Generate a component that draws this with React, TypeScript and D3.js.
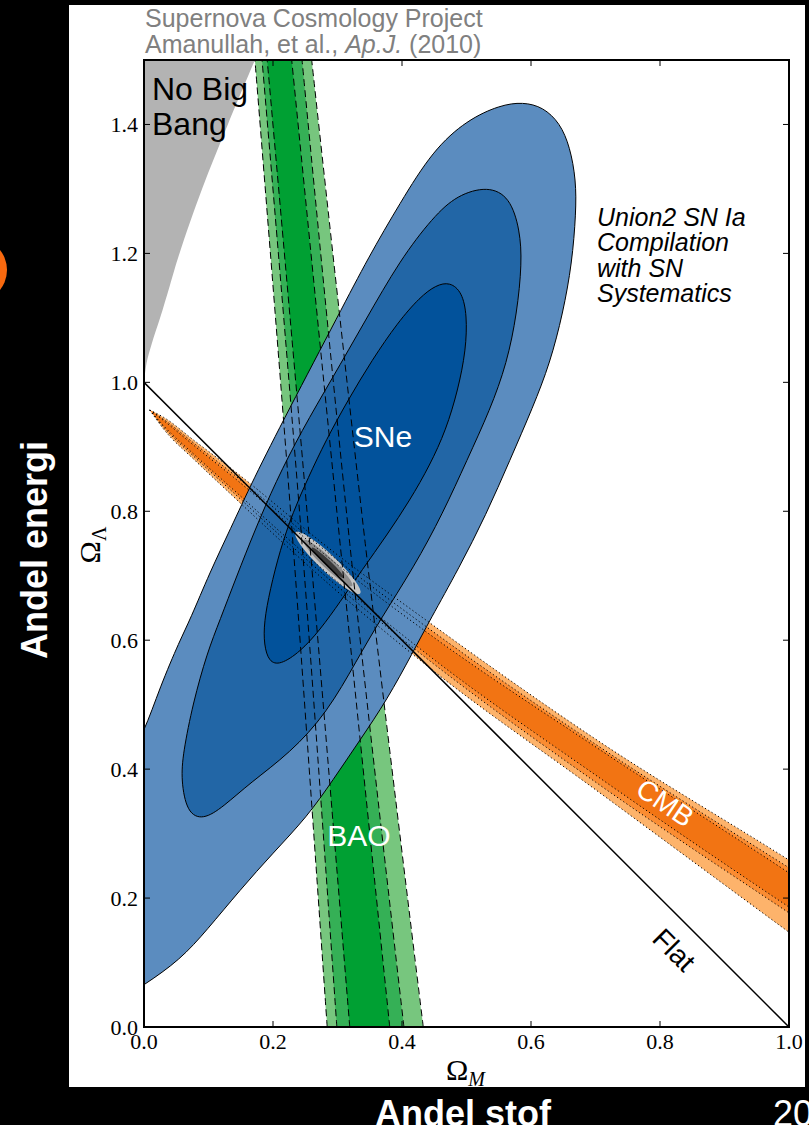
import React from 'react';
import * as d3 from 'd3';

// ---------- data (Omega_M, Omega_Lambda) ----------
const xTicks = [0, 0.2, 0.4, 0.6, 0.8, 1.0];
const yTicks = [0, 0.2, 0.4, 0.6, 0.8, 1.0, 1.2, 1.4];

// "No Big Bang" boundary
const nbbOm = [0, 0.004, 0.012, 0.025, 0.04, 0.055, 0.09, 0.13, 0.172];
const nbbOl = [1.0, 1.03, 1.06, 1.1, 1.15, 1.2, 1.3, 1.4, 1.5];

// SNe contours
const sneOuterOm = [0.5876, 0.6186, 0.645, 0.6605, 0.6698, 0.6698, 0.6636, 0.6496, 0.6295, 0.6031, 0.5674, 0.5302, 0.4884, 0.4434, 0.4171, 0.3767, 0.3349, 0.293, 0.2527, 0.2, 0.1488, 0.0977, 0.0558, 0.0, -0.0372, -0.0682, -0.0837, -0.076, -0.0527, -0.0295, 0.0, 0.0248, 0.0558, 0.0713, 0.1023, 0.1333, 0.169, 0.2217, 0.3039, 0.3473, 0.3969, 0.4481, 0.5008, 0.5519];
const sneOuterOl = [1.4348, 1.427, 1.4022, 1.365, 1.3138, 1.2626, 1.1851, 1.1075, 1.0299, 0.9617, 0.8795, 0.7942, 0.712, 0.6313, 0.5817, 0.5072, 0.4452, 0.3831, 0.3257, 0.2699, 0.2125, 0.1505, 0.1039, 0.0651, 0.0419, 0.0574, 0.1194, 0.228, 0.3366, 0.4064, 0.456, 0.5274, 0.6003, 0.6313, 0.7058, 0.7709, 0.8485, 0.9524, 1.109, 1.1928, 1.2781, 1.3603, 1.4069, 1.4301];

const sneMidOm = [0.5333, 0.5674, 0.5829, 0.586, 0.5783, 0.5628, 0.5364, 0.5008, 0.4636, 0.4186, 0.3659, 0.3302, 0.2837, 0.2264, 0.1643, 0.1225, 0.0915, 0.0667, 0.0574, 0.0605, 0.076, 0.0977, 0.1178, 0.1426, 0.172, 0.204, 0.2449, 0.2904, 0.3436, 0.3969, 0.4481, 0.4853];
const sneMidOl = [1.3045, 1.2874, 1.2362, 1.1851, 1.1075, 1.0299, 0.957, 0.8795, 0.7973, 0.7135, 0.6313, 0.5693, 0.4871, 0.425, 0.3785, 0.3412, 0.3211, 0.3319, 0.3831, 0.425, 0.5026, 0.5801, 0.6313, 0.6965, 0.7709, 0.8454, 0.926, 1.0036, 1.0966, 1.1897, 1.2564, 1.2905];

const sneInnerOm = [0.4744, 0.493, 0.5008, 0.4992, 0.4868, 0.4682, 0.4434, 0.4124, 0.3767, 0.338, 0.3039, 0.2729, 0.2419, 0.2109, 0.1938, 0.186, 0.186, 0.1953, 0.2109, 0.231, 0.2543, 0.2822, 0.3163, 0.3535, 0.3938, 0.4279, 0.4527];
const sneInnerOl = [1.1556, 1.1401, 1.1044, 1.0501, 0.9881, 0.926, 0.8717, 0.8174, 0.7631, 0.7089, 0.6592, 0.6158, 0.5817, 0.5615, 0.5662, 0.5925, 0.6282, 0.6778, 0.7399, 0.7988, 0.8516, 0.9105, 0.9726, 1.0346, 1.0935, 1.1323, 1.1509];

// BAO bands (Omega_M edges at given Omega_Lambda)
const baoOl = [0, 0.75, 1.5];
const baoLightLo = [0.284, 0.231, 0.172];
const baoLightHi = [0.433, 0.343, 0.26];
const baoMidLo = [0.299, 0.245, 0.183];
const baoMidHi = [0.403, 0.319, 0.245];
const baoDarkLo = [0.319, 0.257, 0.191];
const baoDarkHi = [0.381, 0.304, 0.229];

// CMB bands (Omega_Lambda edges at given Omega_M)
const cmbOm = [0.009, 0.03, 0.08, 0.133, 0.29, 0.443, 0.707, 1.0, 1.03];
const cmbLightHi = [0.957, 0.946, 0.908, 0.868, 0.74, 0.627, 0.442, 0.259, 0.24];
const cmbLightLo = [0.957, 0.928, 0.878, 0.828, 0.684, 0.557, 0.363, 0.147, 0.125];
const cmbMidHi = [0.957, 0.943, 0.9035, 0.862, 0.732, 0.617, 0.434, 0.247, 0.228];
const cmbMidLo = [0.957, 0.931, 0.8825, 0.834, 0.692, 0.568, 0.375, 0.177, 0.157];
const cmbDarkHi = [0.957, 0.941, 0.9, 0.8576, 0.725, 0.609, 0.43, 0.239, 0.219];
const cmbDarkLo = [0.957, 0.933, 0.886, 0.8384, 0.699, 0.575, 0.386, 0.186, 0.166];

// combined constraint (small grey ellipse)
const combCenter = [0.285, 0.72];
const combSemiMajor = [0.069, 0.052, 0.034];
const combSemiMinor = [0.013, 0.0085, 0.0045];
const combAngle = 43.5;

// flat universe line
const flatOm = [0, 1];
const flatOl = [1, 0];

const W = 809;
const H = 1125;

export default function App() {
  const x = d3.scaleLinear().domain([0, 1]).range([144, 789]);
  const y = d3.scaleLinear().domain([0, 1.5]).range([1027, 60]);
  const fmt = d3.format('.1f');

  const closed = d3.line<[number, number]>().curve(d3.curveBasisClosed);
  const pts = (a: number[], b: number[]) => a.map((m, i) => [x(m), y(b[i])] as [number, number]);

  const nbbLine = d3.line<[number, number]>().curve(d3.curveCatmullRom.alpha(0.5));
  const nbbPath = nbbLine(pts(nbbOm, nbbOl)) + `L${x(0)},${y(1.5)}Z`;

  const baoArea = (lo: number[], hi: number[]) =>
    d3.area<number>()
      .y((i) => y(baoOl[i]))
      .x0((i) => x(lo[i]))
      .x1((i) => x(hi[i]))
      .curve(d3.curveCatmullRom)(baoOl.map((_, i) => i)) as string;
  const baoEdge = (e: number[]) =>
    d3.line<number>().x((i) => x(e[i])).y((i) => y(baoOl[i])).curve(d3.curveCatmullRom)(baoOl.map((_, i) => i)) as string;

  const cmbArea = (lo: number[], hi: number[]) =>
    d3.area<number>()
      .x((i) => x(cmbOm[i]))
      .y0((i) => y(lo[i]))
      .y1((i) => y(hi[i]))
      .curve(d3.curveMonotoneX)(cmbOm.map((_, i) => i)) as string;
  const cmbEdge = (e: number[]) =>
    d3.line<number>().x((i) => x(cmbOm[i])).y((i) => y(e[i])).curve(d3.curveMonotoneX)(cmbOm.map((_, i) => i)) as string;

  const green = ['#77c67e', '#35b056', '#00a033'];
  const orange = ['#fdb36b', '#fa8c32', '#f27413'];
  const blue = ['#5b8cbf', '#2266a6', '#02529b'];
  const greys = ['#c4c4c4', '#8c8c8c', '#3a3a3a'];

  const sans = 'Liberation Sans, Arial, Helvetica, sans-serif';
  const serif = 'Liberation Serif, Times New Roman, serif';

  const px = (v: number) => x(v) - x(0);

  return (
    <svg width={W} height={H} style={{ position: 'absolute', left: 0, top: 0, display: 'block' }}>
      <rect x={0} y={0} width={W} height={H} fill="#000" />
      <circle cx={-25} cy={270} r={32} fill="#f8690f" />
      <rect x={69} y={5} width={736} height={1082} fill="#fff" />
      <defs>
        <clipPath id="plotClip">
          <rect x={x(0)} y={y(1.5)} width={x(1) - x(0)} height={y(0) - y(1.5)} />
        </clipPath>
      </defs>

      <g clipPath="url(#plotClip)">
        <path d={nbbPath} fill="#b3b3b3" />

        <path d={baoArea(baoLightLo, baoLightHi)} fill={green[0]} />
        <path d={baoArea(baoMidLo, baoMidHi)} fill={green[1]} />
        <path d={baoArea(baoDarkLo, baoDarkHi)} fill={green[2]} />

        <path d={cmbArea(cmbLightLo, cmbLightHi)} fill={orange[0]} />
        <path d={cmbArea(cmbMidLo, cmbMidHi)} fill={orange[1]} />
        <path d={cmbArea(cmbDarkLo, cmbDarkHi)} fill={orange[2]} />

        <path d={closed(pts(sneOuterOm, sneOuterOl)) as string} fill={blue[0]} stroke="#000" strokeWidth={1} />
        <path d={closed(pts(sneMidOm, sneMidOl)) as string} fill={blue[1]} stroke="#000" strokeWidth={1} />
        <path d={closed(pts(sneInnerOm, sneInnerOl)) as string} fill={blue[2]} stroke="#000" strokeWidth={1} />

        <g transform={`translate(${x(combCenter[0])},${y(combCenter[1])}) rotate(${combAngle})`}>
          {combSemiMajor.map((a, i) => (
            <ellipse key={i} cx={0} cy={0} rx={px(a)} ry={px(combSemiMinor[i])} fill={greys[i]} />
          ))}
        </g>

        {[baoLightLo, baoMidLo, baoDarkLo, baoDarkHi, baoMidHi, baoLightHi].map((e, i) => (
          <path key={'bd' + i} d={baoEdge(e)} fill="none" stroke="#000" strokeWidth={1} strokeDasharray="7,4" />
        ))}
        {[cmbLightLo, cmbMidLo, cmbDarkLo, cmbDarkHi, cmbMidHi, cmbLightHi].map((e, i) => (
          <path key={'cd' + i} d={cmbEdge(e)} fill="none" stroke="#000" strokeWidth={1} strokeDasharray="1.2,2.6" />
        ))}

        <line x1={x(flatOm[0])} y1={y(flatOl[0])} x2={x(flatOm[1])} y2={y(flatOl[1])} stroke="#000" strokeWidth={1.5} />
      </g>

      {/* in-plot labels */}
      <text x={152} y={100} fontFamily={sans} fontSize={32} fill="#000">No Big</text>
      <text x={152} y={135} fontFamily={sans} fontSize={32} fill="#000">Bang</text>
      <text x={383} y={447} fontFamily={sans} fontSize={30} fill="#fff" textAnchor="middle">SNe</text>
      <text x={359} y={846} fontFamily={sans} fontSize={30} fill="#fff" textAnchor="middle">BAO</text>
      <text transform="translate(665,803) rotate(34)" fontFamily={sans} fontSize={28} fill="#fff" textAnchor="middle" dominantBaseline="central">CMB</text>
      <text transform="translate(674,950) rotate(45)" fontFamily={sans} fontSize={28} fill="#000" textAnchor="middle" dominantBaseline="central">Flat</text>
      {['Union2 SN Ia', 'Compilation', 'with SN', 'Systematics'].map((t, i) => (
        <text key={t} x={597} y={226 + i * 25.3} fontFamily={sans} fontSize={25} fontStyle="italic" fill="#000">{t}</text>
      ))}

      {/* title */}
      <text x={145} y={27} fontFamily={sans} fontSize={25} fill="#808080">Supernova Cosmology Project</text>
      <text x={145} y={53} fontFamily={sans} fontSize={25} fill="#808080">
        Amanullah, et al., <tspan fontStyle="italic">Ap.J.</tspan> (2010)
      </text>

      {/* frame */}
      <rect x={x(0)} y={y(1.5)} width={x(1) - x(0)} height={y(0) - y(1.5)} fill="none" stroke="#000" strokeWidth={2} />

      {/* ticks */}
      {xTicks.map((t) => (
        <g key={'xt' + t}>
          <line x1={x(t)} x2={x(t)} y1={y(0)} y2={y(0) - 6} stroke="#000" strokeWidth={1} />
          <line x1={x(t)} x2={x(t)} y1={y(1.5)} y2={y(1.5) + 6} stroke="#000" strokeWidth={1} />
          <text x={x(t)} y={1049} fontFamily={serif} fontSize={22} textAnchor="middle" fill="#000">{fmt(t)}</text>
        </g>
      ))}
      {yTicks.map((t) => (
        <g key={'yt' + t}>
          <line x1={x(0)} x2={x(0) + 6} y1={y(t)} y2={y(t)} stroke="#000" strokeWidth={1} />
          <line x1={x(1)} x2={x(1) - 6} y1={y(t)} y2={y(t)} stroke="#000" strokeWidth={1} />
          <text x={138} y={y(t)} dy="0.35em" fontFamily={serif} fontSize={22} textAnchor="end" fill="#000">{fmt(t)}</text>
        </g>
      ))}

      {/* axis labels */}
      <text x={446} y={1080} fontFamily={serif} fontSize={30} fill="#000">
        Ω<tspan fontSize={20} fontStyle="italic" dy={6}>M</tspan>
      </text>
      <text transform="translate(100,545) rotate(-90)" fontFamily={serif} fontSize={30} fill="#000" textAnchor="middle">
        Ω<tspan fontSize={20} dy={6}>Λ</tspan>
      </text>

      {/* outer labels */}
      <text transform="translate(47,550) rotate(-90)" fontFamily={sans} fontSize={36} fontWeight="bold" fill="#fff" textAnchor="middle">Andel energi</text>
      <text x={463} y={1126} fontFamily={sans} fontSize={36} fontWeight="bold" fill="#fff" textAnchor="middle">Andel stof</text>
      <text x={773} y={1126} fontFamily={sans} fontSize={36} fill="#fff">20</text>
    </svg>
  );
}
